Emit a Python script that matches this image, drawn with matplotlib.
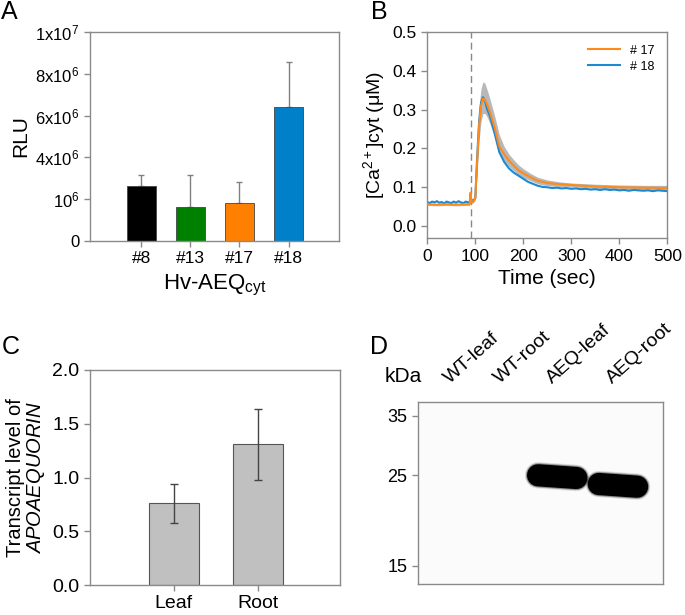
import numpy as np
import matplotlib
matplotlib.use('Agg')
import matplotlib.pyplot as plt
from matplotlib.transforms import blended_transform_factory

plt.rcParams['font.family'] = ['Liberation Sans', 'DejaVu Sans']
plt.rcParams['mathtext.fontset'] = 'custom'
plt.rcParams['mathtext.rm'] = 'Liberation Sans'
plt.rcParams['mathtext.it'] = 'Liberation Sans:italic'
plt.rcParams['mathtext.default'] = 'regular'

# ---- panel A: luminescence per line ----
lines_a = ['#8', '#13', '#17', '#18']
rlu = [2.63e6, 1.61e6, 1.83e6, 6.40e6]
rlu_err = [0.53e6, 1.56e6, 0.99e6, 2.16e6]
colors_a = ['#000000', '#008000', '#ff8000', '#0080c8']
ticks_a = [0, 2e6, 4e6, 6e6, 8e6, 1e7]
ticklabels_a = ['0', '$10^6$', '4x$10^6$', '6x$10^6$', '8x$10^6$', '1x$10^7$']

# ---- panel B: [Ca2+]cyt time course ----
t17 = [0, 20, 40, 60, 80, 88, 90, 92, 96, 100, 104, 108, 112, 116, 120, 125, 130,
       140, 150, 160, 170, 180, 190, 200, 215, 230, 250, 275, 300, 350, 400, 450, 500]
ca17 = [0.055, 0.054, 0.055, 0.054, 0.055, 0.055, 0.085, 0.060, 0.062, 0.072, 0.17,
        0.26, 0.31, 0.328, 0.326, 0.312, 0.295, 0.255, 0.205, 0.185, 0.168, 0.155,
        0.143, 0.135, 0.125, 0.116, 0.110, 0.107, 0.105, 0.101, 0.099, 0.098, 0.097]
hi17 = [0.058, 0.057, 0.058, 0.057, 0.058, 0.058, 0.088, 0.063, 0.065, 0.080, 0.20,
        0.31, 0.355, 0.372, 0.368, 0.350, 0.330, 0.285, 0.235, 0.205, 0.185, 0.170,
        0.157, 0.147, 0.135, 0.125, 0.118, 0.113, 0.110, 0.107, 0.105, 0.104, 0.104]
lo17 = [0.052, 0.051, 0.052, 0.051, 0.052, 0.052, 0.082, 0.057, 0.059, 0.066, 0.14,
        0.22, 0.27, 0.29, 0.29, 0.28, 0.265, 0.23, 0.19, 0.168, 0.153, 0.142,
        0.131, 0.124, 0.116, 0.108, 0.103, 0.101, 0.100, 0.096, 0.094, 0.093, 0.092]

t18 = [0, 5, 10, 15, 20, 25, 30, 35, 40, 45, 50, 55, 60, 65, 70, 75, 80, 85, 88, 90,
       92, 96, 100, 104, 108, 112, 116, 120, 125, 130, 140, 150, 160, 170, 180, 190,
       200, 210, 220, 230, 240, 250, 260, 270, 280, 290, 300, 310, 320, 330, 340, 350,
       360, 370, 380, 390, 400, 410, 420, 430, 440, 450, 460, 470, 480, 490, 500]
ca18 = [0.061, 0.058, 0.062, 0.060, 0.063, 0.059, 0.061, 0.057, 0.062, 0.060, 0.058,
        0.062, 0.059, 0.063, 0.060, 0.058, 0.062, 0.060, 0.061, 0.060, 0.064, 0.066,
        0.070, 0.18, 0.27, 0.318, 0.332, 0.322, 0.300, 0.285, 0.240, 0.190, 0.165,
        0.148, 0.137, 0.129, 0.121, 0.113, 0.108, 0.103, 0.100, 0.099, 0.097, 0.098,
        0.096, 0.097, 0.095, 0.096, 0.094, 0.095, 0.093, 0.094, 0.092, 0.094, 0.092,
        0.093, 0.091, 0.092, 0.090, 0.092, 0.091, 0.090, 0.091, 0.089, 0.091, 0.090,
        0.089]
stim_time = 90

# ---- panel C: transcript level ----
tissues = ['Leaf', 'Root']
transcript = [0.76, 1.31]
transcript_err = [0.18, 0.33]

# ---- panel D: western blot ----
lanes = ['WT-leaf', 'WT-root', 'AEQ-leaf', 'AEQ-root']
lane_x = [0.70, 1.65, 2.62, 3.76]
band_kda = [None, None, 25.0, 23.8]
markers_kda = [35, 25, 15]

spine_col = '#8a8a8a'
fig = plt.figure(figsize=(6.85, 6.15), dpi=100)


def style_axes(ax):
    for s in ax.spines.values():
        s.set_color(spine_col)
        s.set_linewidth(1.0)
    ax.tick_params(color=spine_col, length=4, width=1.0, direction='out')


# A
axA = fig.add_axes([90 / 685, 1 - 241 / 615, 249 / 685, 209 / 615])
xa = np.arange(len(lines_a))
axA.bar(xa, rlu, width=0.6, color=colors_a, edgecolor='#444444', linewidth=0.6, zorder=2)
axA.errorbar(xa, rlu, yerr=[[0] * 4, rlu_err], fmt='none', ecolor='#808080',
             elinewidth=1, capsize=2, zorder=1)
axA.set_xlim(-1.05, 4.03)
axA.set_ylim(0, 1e7)
axA.set_yticks(ticks_a)
axA.set_yticklabels(ticklabels_a, fontsize=12)
axA.set_xticks(xa)
axA.set_xticklabels(lines_a, fontsize=12.5)
axA.set_ylabel('RLU', fontsize=15, labelpad=4)
axA.set_xlabel('Hv-AEQ$_{cyt}$', fontsize=16, labelpad=5)
style_axes(axA)

# B
axB = fig.add_axes([427.3 / 685, 1 - 238.3 / 615, 240 / 685, 206 / 615])
axB.fill_between(t17, lo17, hi17, color='#b8b8b8', lw=0, zorder=1)
axB.plot(t17, ca17, color='#ff8a1c', lw=1.5, label='# 17', zorder=3)
axB.plot(t18, ca18, color='#1a8ad4', lw=1.5, label='# 18', zorder=2)
axB.axvline(stim_time, color='#888888', lw=1, ls=(0, (5, 3)), zorder=0)
axB.set_xlim(0, 500)
axB.set_ylim(-0.033, 0.5)
axB.set_xticks([0, 100, 200, 300, 400, 500])
axB.set_yticks([0.0, 0.1, 0.2, 0.3, 0.4, 0.5])
axB.set_yticklabels(['0.0', '0.1', '0.2', '0.3', '0.4', '0.5'])
axB.tick_params(labelsize=12.5)
axB.set_xlabel('Time (sec)', fontsize=15, labelpad=4)
axB.set_ylabel('[Ca$^{2+}$]cyt (μM)', fontsize=14, labelpad=4)
axB.legend(loc='upper right', frameon=False, fontsize=9, handlelength=2.6,
           borderaxespad=0.6, labelspacing=0.3)
style_axes(axB)

# C
axC = fig.add_axes([90 / 685, 1 - 585 / 615, 250 / 685, 215 / 615])
xc = np.arange(len(tissues))
axC.bar(xc, transcript, width=0.6, color='#c0c0c0', edgecolor='#555555',
        linewidth=0.8, zorder=2)
axC.errorbar(xc, transcript, yerr=transcript_err, fmt='none', ecolor='#444444',
             elinewidth=1, capsize=3, zorder=3)
axC.set_xlim(-1.0, 1.98)
axC.set_ylim(0, 2.0)
axC.set_yticks([0.0, 0.5, 1.0, 1.5, 2.0])
axC.set_yticklabels(['0.0', '0.5', '1.0', '1.5', '2.0'])
axC.set_xticks(xc)
axC.set_xticklabels(tissues)
axC.tick_params(labelsize=14)
axC.set_ylabel('Transcript level of\n$\\mathit{APOAEQUORIN}$', fontsize=14.5,
               labelpad=4, linespacing=1.0)
style_axes(axC)

# D - blot drawn as soft dark bands
axD = fig.add_axes([417.7 / 685, 1 - 584.3 / 615, 245 / 685, 182.6 / 615])
axD.set_facecolor('#fbfbfb')
axD.set_yscale('log')
axD.set_ylim(13.5, 37.9)
axD.set_xlim(0, 4.6)
for x, kda in zip(lane_x, band_kda):
    if kda is None:
        continue
    for lw, a in [(19, 0.12), (17.5, 0.35), (16, 1.0)]:
        axD.plot([x - 0.36, x + 0.36], [kda, kda * 0.985], color='black', lw=lw,
                 solid_capstyle='round', alpha=a, zorder=3)
axD.set_yticks(markers_kda)
axD.set_yticklabels([str(m) for m in markers_kda])
axD.yaxis.set_minor_locator(matplotlib.ticker.NullLocator())
axD.set_xticks([])
axD.tick_params(labelsize=13)
style_axes(axD)
trD = blended_transform_factory(axD.transData, axD.transAxes)
for x, name in zip(lane_x, lanes):
    axD.text(x - 0.05, 1.08, name, transform=trD, rotation=42, ha='left',
             va='bottom', fontsize=14, rotation_mode='anchor')
fig.text(403 / 685, 1 - 377 / 615, 'kDa', fontsize=15, ha='center', va='center')

# panel letters
for lab, px, py in [('A', 1, 19), ('B', 371, 19), ('C', 2, 354), ('D', 370, 354)]:
    fig.text(px / 685, 1 - py / 615, lab, fontsize=18, ha='left', va='baseline')

fig.savefig('out.png', dpi=100)
